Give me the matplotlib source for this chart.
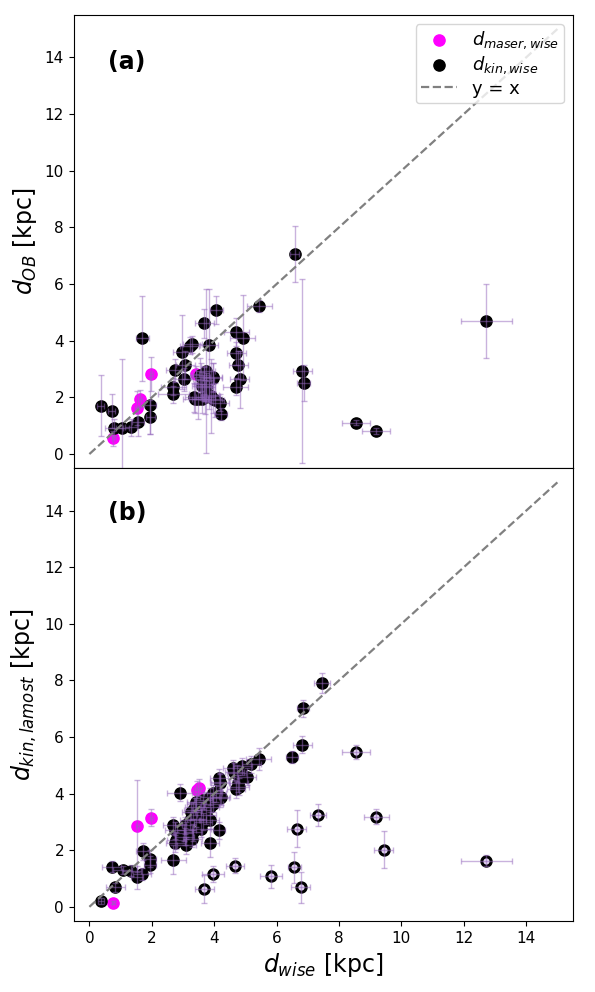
import numpy as np
import matplotlib.pyplot as plt

# panel (a): d_OB vs d_wise, kinematic sample
a_kin_x = [0.36, 0.71, 0.79, 1.06, 1.33, 1.56, 1.70, 1.95, 1.95, 2.69, 2.69, 2.75, 3.02, 2.98, 3.08,
           3.21, 3.30, 3.39, 3.49, 3.68, 3.83, 4.07, 3.53, 3.73, 3.66, 3.72, 3.89, 3.96, 4.02, 4.18,
           4.21, 4.69, 4.71, 4.91, 4.71, 4.77, 4.82, 5.45, 6.58, 6.82, 6.87, 8.55, 9.20, 12.72,
           3.57, 3.60, 3.73, 3.36, 3.60, 3.95, 3.84, 3.68, 3.95]
a_kin_y = [1.70, 1.51, 0.92, 0.92, 0.95, 1.13, 4.08, 1.72, 1.31, 2.37, 2.11, 2.96, 2.64, 3.61, 3.14,
           3.82, 3.87, 1.96, 1.94, 4.61, 3.84, 5.08, 2.78, 2.92, 2.47, 2.02, 2.05, 2.72, 1.90, 1.81,
           1.41, 2.37, 4.31, 4.11, 3.55, 3.14, 2.64, 5.22, 7.06, 2.94, 2.51, 1.11, 0.82, 4.70,
           2.72, 2.40, 2.37, 2.00, 1.96, 1.96, 2.08, 2.61, 2.70]
a_kin_xerr = [0.10, 0.10, 0.30, 0.20, 0.20, 0.20, 0.20, 0.20, 0.15, 0.40, 0.50, 0.30, 0.30, 0.30, 0.30,
              0.30, 0.30, 0.40, 0.30, 0.30, 0.30, 0.20, 0.30, 0.30, 0.30, 0.30, 0.30, 0.30, 0.30, 0.30,
              0.20, 0.40, 0.40, 0.40, 0.30, 0.30, 0.30, 0.40, 0.15, 0.30, 0.20, 0.45, 0.45, 0.82,
              0.30, 0.30, 0.30, 0.30, 0.30, 0.30, 0.30, 0.30, 0.30]
a_kin_yerr = [1.08, 0.60, 0.30, 2.43, 0.30, 0.50, 1.50, 1.00, 0.60, 0.30, 0.30, 0.40, 0.40, 1.30, 0.50,
              0.30, 0.30, 0.50, 0.70, 0.50, 2.00, 0.50, 0.60, 2.90, 0.60, 0.60, 1.30, 0.50, 0.60, 0.30,
              0.20, 0.30, 0.50, 1.50, 0.40, 0.50, 1.00, 0.20, 1.00, 3.24, 0.65, 0.10, 0.10, 1.30,
              0.50, 0.50, 0.50, 0.50, 0.50, 0.50, 0.50, 0.50, 0.50]

# panel (a): maser sample
a_mas_x = [0.77, 1.52, 1.63, 1.99, 3.41]
a_mas_y = [0.55, 1.64, 1.96, 2.82, 2.82]
a_mas_xerr = [0.05, 0.05, 0.05, 0.05, 0.10]
a_mas_yerr = [0.25, 0.60, 0.30, 0.60, 0.30]

# panel (b): d_kin,lamost vs d_wise, kinematic sample (on the relation)
b_kin_x = [0.37, 0.83, 0.72, 1.07, 1.34, 1.52, 1.69, 1.71, 1.95, 1.95, 2.69, 2.67, 2.76, 2.89, 3.02,
           3.11, 3.30, 3.05, 3.32, 3.42, 4.15, 3.87, 3.96, 4.15, 4.20, 4.22, 4.59, 4.65, 4.70, 4.80,
           4.90, 5.05, 5.19, 5.43, 6.49, 6.82, 6.84, 7.45,
           4.72, 4.77, 4.18, 4.07, 3.86, 3.64, 3.97, 3.43, 3.38, 3.59, 3.86, 4.18, 3.27, 3.75, 3.43,
           3.22, 3.64, 3.86, 3.11, 3.32, 3.59, 2.73, 3.05, 2.79]
b_kin_y = [0.21, 0.69, 1.42, 1.31, 1.28, 1.04, 1.16, 1.97, 1.70, 1.48, 1.67, 2.88, 2.25, 4.03, 2.61,
           2.18, 2.40, 2.88, 3.42, 3.65, 2.70, 2.25, 4.01, 4.57, 4.39, 3.89, 4.90, 4.78, 4.15, 4.25,
           4.96, 4.60, 5.04, 5.22, 5.29, 5.73, 7.01, 7.90,
           4.72, 4.37, 4.42, 4.01, 3.89, 3.77, 3.65, 3.71, 3.53, 3.42, 3.53, 3.83, 3.36, 3.24, 3.12,
           3.06, 3.00, 3.06, 2.70, 2.64, 2.76, 2.70, 2.47, 2.35]
b_kin_xerr = [0.10, 0.30, 0.30, 0.30, 0.30, 0.20, 0.30, 0.20, 0.20, 0.20, 0.40, 0.30, 0.30, 0.40, 0.30,
              0.30, 0.30, 0.30, 0.30, 0.30, 0.20, 0.30, 0.30, 0.30, 0.30, 0.30, 0.30, 0.30, 0.30, 0.30,
              0.30, 0.30, 0.30, 0.40, 0.20, 0.30, 0.20, 0.25,
              0.30, 0.30, 0.30, 0.30, 0.30, 0.30, 0.30, 0.30, 0.30, 0.30, 0.30, 0.30, 0.30, 0.30, 0.30,
              0.30, 0.30, 0.30, 0.30, 0.30, 0.30, 0.30, 0.30, 0.30]
b_kin_yerr = [0.10, 0.15, 0.20, 0.15, 0.20, 0.40, 0.20, 0.30, 0.30, 0.30, 0.50, 0.30, 0.30, 0.30, 0.30,
              0.30, 0.30, 0.30, 0.30, 0.30, 0.30, 0.50, 0.30, 0.30, 0.30, 0.30, 0.30, 0.30, 0.30, 0.30,
              0.30, 0.30, 0.30, 0.40, 0.20, 0.30, 0.30, 0.35,
              0.30, 0.30, 0.30, 0.30, 0.30, 0.30, 0.30, 0.30, 0.30, 0.30, 0.30, 0.30, 0.30, 0.30, 0.30,
              0.30, 0.30, 0.30, 0.30, 0.30, 0.30, 0.30, 0.30, 0.30]

# panel (b): outliers, drawn as open markers
b_out_x = [8.55, 7.32, 6.64, 9.19, 9.43, 6.57, 6.77, 12.72, 4.67, 3.96, 3.68, 5.83]
b_out_y = [5.47, 3.24, 2.76, 3.19, 2.02, 1.40, 0.69, 1.63, 1.46, 1.16, 0.62, 1.08]
b_out_xerr = [0.45, 0.25, 0.30, 0.40, 0.30, 0.20, 0.30, 0.82, 0.30, 0.35, 0.30, 0.35]
b_out_yerr = [0.25, 0.40, 0.65, 0.25, 0.65, 0.55, 0.55, 0.20, 0.25, 0.30, 0.50, 0.40]

# panel (b): maser sample
b_mas_x = [0.77, 1.53, 1.99, 3.45, 3.52]
b_mas_y = [0.15, 2.85, 3.14, 4.13, 4.21]
b_mas_xerr = [0.05, 0.05, 0.05, 0.10, 0.10]
b_mas_yerr = [0.05, 1.63, 0.30, 0.30, 0.30]

line = [0, 15]

err_kw = dict(fmt='none', ecolor='#9467bd', alpha=0.5, elinewidth=1, capsize=2, zorder=3)
msize = 65

fig = plt.figure(figsize=(5.95, 9.92), dpi=100)
ax1 = fig.add_axes([0.124, 0.528, 0.839, 0.457])
ax2 = fig.add_axes([0.124, 0.0716, 0.839, 0.4564])

# (a)
ax1.scatter(a_mas_x, a_mas_y, s=msize, color='magenta', zorder=2, label=r'$d_{maser,wise}$')
ax1.scatter(a_kin_x, a_kin_y, s=msize, color='black', zorder=2, label=r'$d_{kin,wise}$')
ax1.errorbar(a_mas_x, a_mas_y, xerr=a_mas_xerr, yerr=a_mas_yerr, **err_kw)
ax1.errorbar(a_kin_x, a_kin_y, xerr=a_kin_xerr, yerr=a_kin_yerr, **err_kw)
ax1.plot(line, line, '--', color='gray', lw=1.6, zorder=4, label='y = x')
ax1.legend(loc='upper right', fontsize=13, labelspacing=0.2, borderpad=0.3)
ax1.set_ylabel(r'$d_{OB}$ [kpc]', fontsize=17)
ax1.text(0.6, 13.85, '(a)', fontsize=17, fontweight='bold', va='center')

# (b)
ax2.scatter(b_mas_x, b_mas_y, s=msize, color='magenta', zorder=2)
ax2.scatter(b_kin_x, b_kin_y, s=msize, color='black', zorder=2)
ax2.scatter(b_out_x, b_out_y, s=45, facecolors='#e4d8f0', edgecolors='black', linewidths=2.2, zorder=2)
ax2.errorbar(b_mas_x, b_mas_y, xerr=b_mas_xerr, yerr=b_mas_yerr, **err_kw)
ax2.errorbar(b_kin_x, b_kin_y, xerr=b_kin_xerr, yerr=b_kin_yerr, **err_kw)
ax2.errorbar(b_out_x, b_out_y, xerr=b_out_xerr, yerr=b_out_yerr, **err_kw)
ax2.plot(line, line, '--', color='gray', lw=1.6, zorder=4)
ax2.set_ylabel(r'$d_{kin,lamost}$ [kpc]', fontsize=17)
ax2.set_xlabel(r'$d_{wise}$ [kpc]', fontsize=17)
ax2.text(0.6, 13.9, '(b)', fontsize=17, fontweight='bold', va='center')

for ax in (ax1, ax2):
    ax.set_xlim(-0.5, 15.5)
    ax.set_ylim(-0.5, 15.5)
    ax.set_xticks(np.arange(0, 15, 2))
    ax.set_yticks(np.arange(0, 15, 2))
    ax.tick_params(labelsize=11)
ax1.tick_params(axis='x', bottom=False, labelbottom=False)

fig.savefig('out.png', dpi=100)
